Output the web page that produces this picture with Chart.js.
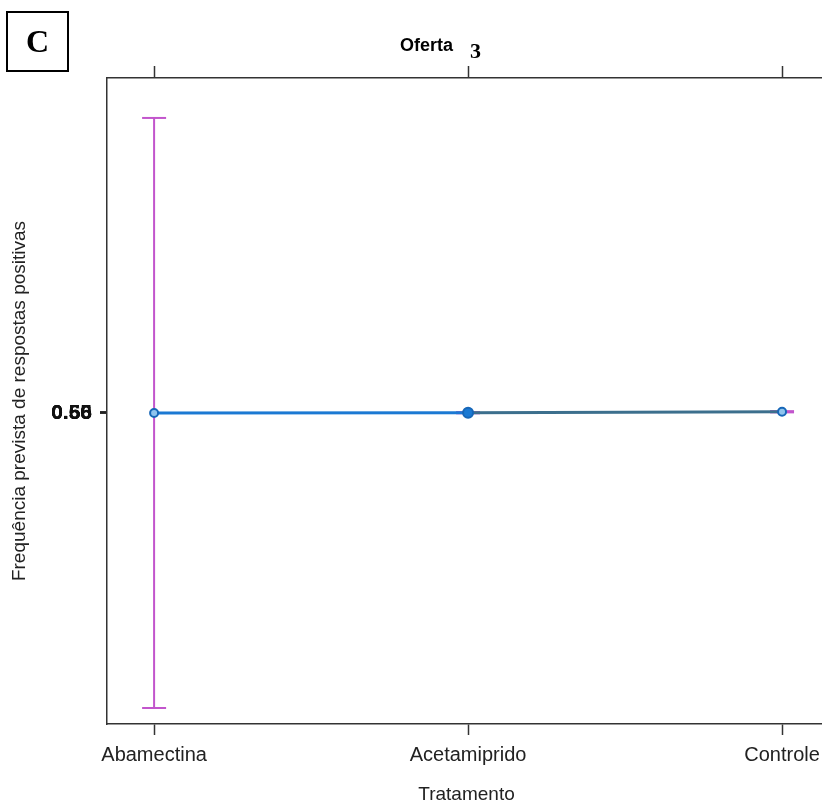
<!DOCTYPE html>
<html>
<head>
<meta charset="utf-8">
<script src="https://cdn.jsdelivr.net/npm/chart.js@4"></script>
<style>
  html, body { margin: 0; padding: 0; background: #fff; overflow: hidden; }
  #wrap { position: relative; width: 840px; height: 807px; }
  #panel {
    position: absolute; left: 6px; top: 11px; width: 59px; height: 57px;
    border: 2px solid #000; font: bold 32px "Liberation Serif", serif;
    text-align: center; line-height: 57px; color: #000;
  }
</style>
</head>
<body>
<div id="wrap">
  <canvas id="chart" width="840" height="807"></canvas>
  <div id="panel">C</div>
</div>
<script>
// Data
const categories = ['Abamectina', 'Acetamiprido', 'Controle'];
const fitValues = [0.5, 0.5005, 0.502];
const lowerCI = [0.02, 0.4995, 0.501];
const upperCI = [0.98, 0.5015, 0.503];
const yTickValues = [0.5, 0.5, 0.5, 0.5];
const yTickLabels = ['0.50', '0.55', '0.56', '0.66'];

const lineBlue = '#1b79d3';
const lineDark = '#3c6f8d';
const ciColor = '#c255cc';

// points for the fitted line
const fitPoints = categories.map((c, i) => ({ x: i, y: fitValues[i] }));

// error bars: vertical segment per category, separated by nulls
const ciPoints = [];
categories.forEach((c, i) => {
    ciPoints.push({ x: i, y: lowerCI[i] });
    ciPoints.push({ x: i, y: upperCI[i] });
    ciPoints.push({ x: i, y: null });
});

// title "Oferta 3" drawn in two fonts like the original
const titlePlugin = {
    id: 'mixedTitle',
    afterDraw(chart) {
        const ctx = chart.ctx;
        ctx.save();
        ctx.fillStyle = '#000';
        ctx.textBaseline = 'alphabetic';
        ctx.font = 'bold 18px "Liberation Sans", Arial, sans-serif';
        ctx.fillText('Oferta', 400, 51);
        ctx.font = 'bold 22px "Liberation Serif", serif';
        ctx.fillText('3', 470, 58);
        ctx.restore();
    }
};

const ctx = document.getElementById('chart').getContext('2d');
new Chart(ctx, {
    type: 'scatter',
    data: {
        datasets: [
            {
                label: 'IC',
                data: ciPoints,
                showLine: true,
                spanGaps: false,
                borderColor: ciColor,
                borderWidth: 2,
                pointStyle: 'line',
                pointRadius: 12,
                pointBorderColor: ciColor,
                pointBorderWidth: 2,
                order: 2
            },
            {
                label: 'Ajuste',
                data: fitPoints,
                showLine: true,
                borderColor: lineBlue,
                borderWidth: 3,
                segment: {
                    borderColor: c => c.p0DataIndex === 1 ? lineDark : lineBlue
                },
                pointRadius: [4, 5, 4],
                pointBackgroundColor: ['#8fc4ee', '#1b79d3', '#8fc4ee'],
                pointBorderColor: '#1767b8',
                pointBorderWidth: 2,
                order: 1
            }
        ]
    },
    options: {
        responsive: false,
        animation: false,
        layout: { padding: 0 },
        plugins: {
            legend: { display: false },
            tooltip: { enabled: false },
            title: { display: false }
        },
        scales: {
            x: {
                type: 'linear',
                position: 'bottom',
                min: -0.15,
                max: 2.14,
                afterBuildTicks: s => { s.ticks = categories.map((c, i) => ({ value: i })); },
                afterFit: s => { s.height = 83; },
                ticks: {
                    autoSkip: false,
                    maxRotation: 0,
                    padding: 8,
                    color: '#222',
                    font: { family: '"Liberation Sans", Arial, sans-serif', size: 20 },
                    callback: v => categories[v]
                },
                grid: {
                    drawOnChartArea: false,
                    drawTicks: true,
                    tickLength: 11,
                    tickColor: '#333',
                    tickWidth: 1.5
                },
                border: { display: true, color: '#333', width: 1.5 },
                title: {
                    display: true,
                    text: 'Tratamento',
                    color: '#222',
                    padding: { top: 0, bottom: 1 },
                    font: { family: '"Liberation Sans", Arial, sans-serif', size: 19 }
                }
            },
            xTop: {
                type: 'linear',
                position: 'top',
                min: -0.15,
                max: 2.14,
                afterBuildTicks: s => { s.ticks = categories.map((c, i) => ({ value: i })); },
                afterFit: s => { s.height = 78; },
                ticks: { display: false },
                grid: {
                    drawOnChartArea: false,
                    drawTicks: true,
                    tickLength: 12,
                    tickColor: '#333',
                    tickWidth: 1.5
                },
                border: { display: true, color: '#333', width: 1.5 }
            },
            y: {
                type: 'linear',
                position: 'left',
                min: -0.006,
                max: 1.045,
                afterBuildTicks: s => { s.ticks = yTickValues.map(v => ({ value: v })); },
                afterFit: s => { s.width = 107; },
                ticks: {
                    autoSkip: false,
                    padding: 8,
                    color: '#111',
                    font: { family: '"Liberation Sans", Arial, sans-serif', size: 21, weight: 'bold' },
                    callback: (v, i) => yTickLabels[i]
                },
                grid: {
                    drawOnChartArea: false,
                    drawTicks: true,
                    tickLength: 7,
                    tickColor: '#222',
                    tickWidth: 2
                },
                border: { display: true, color: '#333', width: 1.5 },
                title: {
                    display: true,
                    text: 'Frequência prevista de respostas positivas',
                    color: '#222',
                    padding: { top: 8, bottom: 0 },
                    font: { family: '"Liberation Sans", Arial, sans-serif', size: 19 }
                }
            }
        }
    },
    plugins: [titlePlugin]
});
</script>
</body>
</html>
